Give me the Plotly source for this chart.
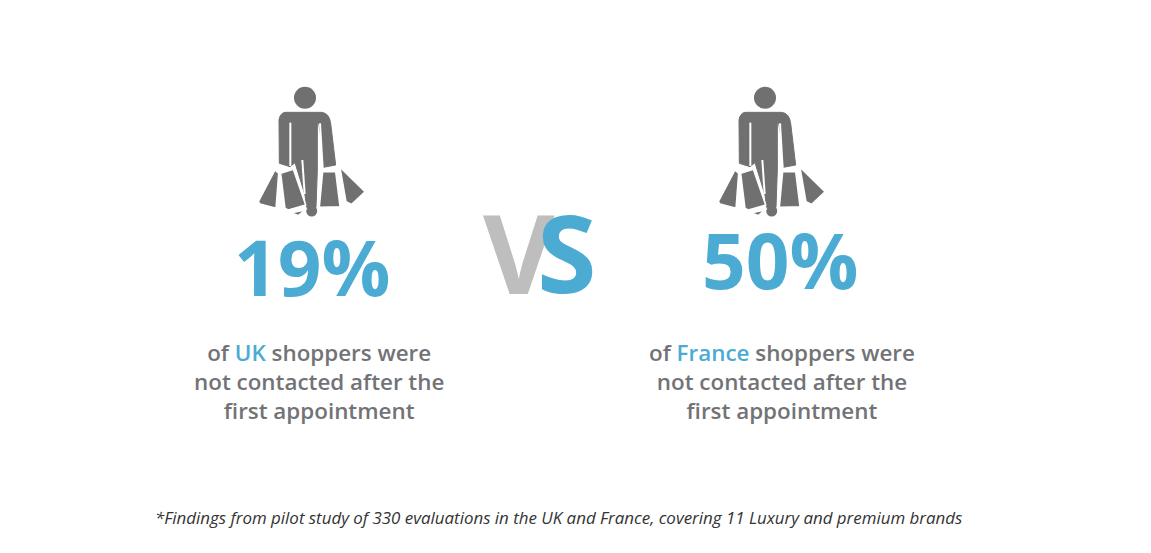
import plotly.graph_objects as go

countries = ["UK", "France"]
percentages = [19, 50]
prefix = "of "
line1_tail = " shoppers were"
line2 = "not contacted after the"
line3 = "first appointment"
footnote = "*Findings from pilot study of 330 evaluations in the UK and France, covering 11 Luxury and premium brands"

BLUE = "#4BABD3"
TEXT = "#727376"
ICON = "#707070"
VGREY = "#BEBEBE"
W, H = 1151, 553
PAGE_MARGIN = 8
FONT = "Open Sans"

# Icon outlines in crop units (3 per pixel), relative to the crop's corner
ICON_BODY = "M135,127 L245,127 Q268,130 272,160 L287,285 L250,292 L243,200 L236,160 L232,160 L232,300 L228,412 L200,412 L195,375 L165,278 L150,290 L118,280 L117,150 Q120,130 135,127 Z"
ICON_BAGS = [
    "M105,300 L116,310 L108,415 L60,402 L55,395 Z",
    "M122,310 L160,298 L197,405 L145,420 L135,415 Z",
    "M248,305 L287,305 L300,410 L238,412 Z",
    "M300,292 L375,365 L335,403 L318,395 Z",
    "M155,428 L195,420 L175,437 Z",
]
ICON_SLITS = [
    "M151,158 L151,288",
    "M187,270 L194,372",
    "M240,160 L248,295",
]


def shift_path(path, dx, dy, k=1 / 3):
    cur = ""
    res = ""
    is_x = True
    for ch in path + " ":
        if ch.isdigit() or ch == ".":
            cur += ch
        else:
            if cur:
                v = float(cur) * k + (dx if is_x else dy)
                res += f"{v:.2f}"
                is_x = not is_x
                cur = ""
            res += ch
    return res.strip()


shapes = []
for ox, oy in [(240, 70), (700, 70)]:
    shapes.append(dict(type="path", path=shift_path(ICON_BODY, ox, oy), fillcolor=ICON,
                       line=dict(color=ICON, width=1), xref="x", yref="y", layer="above"))
    for p in ICON_SLITS:
        shapes.append(dict(type="path", path=shift_path(p, ox, oy),
                           line=dict(color="white", width=2), xref="x", yref="y", layer="above"))
    fx, fy = ox + 71.7, oy + 141
    shapes.append(dict(type="circle", x0=fx - 5.5, x1=fx + 5.5, y0=fy - 5.5, y1=fy + 5.5,
                       fillcolor=ICON, line=dict(width=0), xref="x", yref="y", layer="above"))
    for p in ICON_BAGS:
        shapes.append(dict(type="path", path=shift_path(p, ox, oy), fillcolor=ICON,
                           line=dict(color="white", width=1.5), xref="x", yref="y", layer="above"))
    cx, cy = ox + 65, oy + 27.7
    shapes.append(dict(type="circle", x0=cx - 11, x1=cx + 11, y0=cy - 11, y1=cy + 11,
                       fillcolor=ICON, line=dict(width=0), xref="x", yref="y", layer="above"))


def note(x, y, text, size, color=TEXT, weight=600, style="normal"):
    return dict(x=x, y=y, xref="x", yref="y", text=text, showarrow=False, xanchor="center",
                yanchor="middle", align="center",
                font=dict(family=FONT, size=size, color=color, weight=weight, style=style))


ann = []
pct_pos = [(312, 265.5), (780, 259)]
txt_x = [319, 782]
for c, v, (px, py), tx in zip(countries, percentages, pct_pos, txt_x):
    ann.append(note(px, py, f"{v}%", 76.5, BLUE, 700))
    ann.append(note(tx, 381.5,
                    f'{prefix}<span style="color:{BLUE}">{c}</span>{line1_tail}<br>{line2}<br>{line3}',
                    22.4))
ann.append(note(518.5, 251, "V", 110, VGREY, 700))
ann.append(note(566, 251, "S", 108, BLUE, 700))
ann.append(note(558.5, 517, footnote, 16.9, "#333333", 400, "italic"))

fig = go.Figure()
fig.update_layout(
    width=W - PAGE_MARGIN, height=H - PAGE_MARGIN, autosize=False, margin=dict(l=0, r=0, t=0, b=0),
    paper_bgcolor="white", plot_bgcolor="white", showlegend=False,
    xaxis=dict(range=[PAGE_MARGIN, W], visible=False, fixedrange=True),
    yaxis=dict(range=[H, PAGE_MARGIN], visible=False, fixedrange=True),
    shapes=shapes, annotations=ann,
)
fig.write_html("out.html", config=dict(displayModeBar=False))
